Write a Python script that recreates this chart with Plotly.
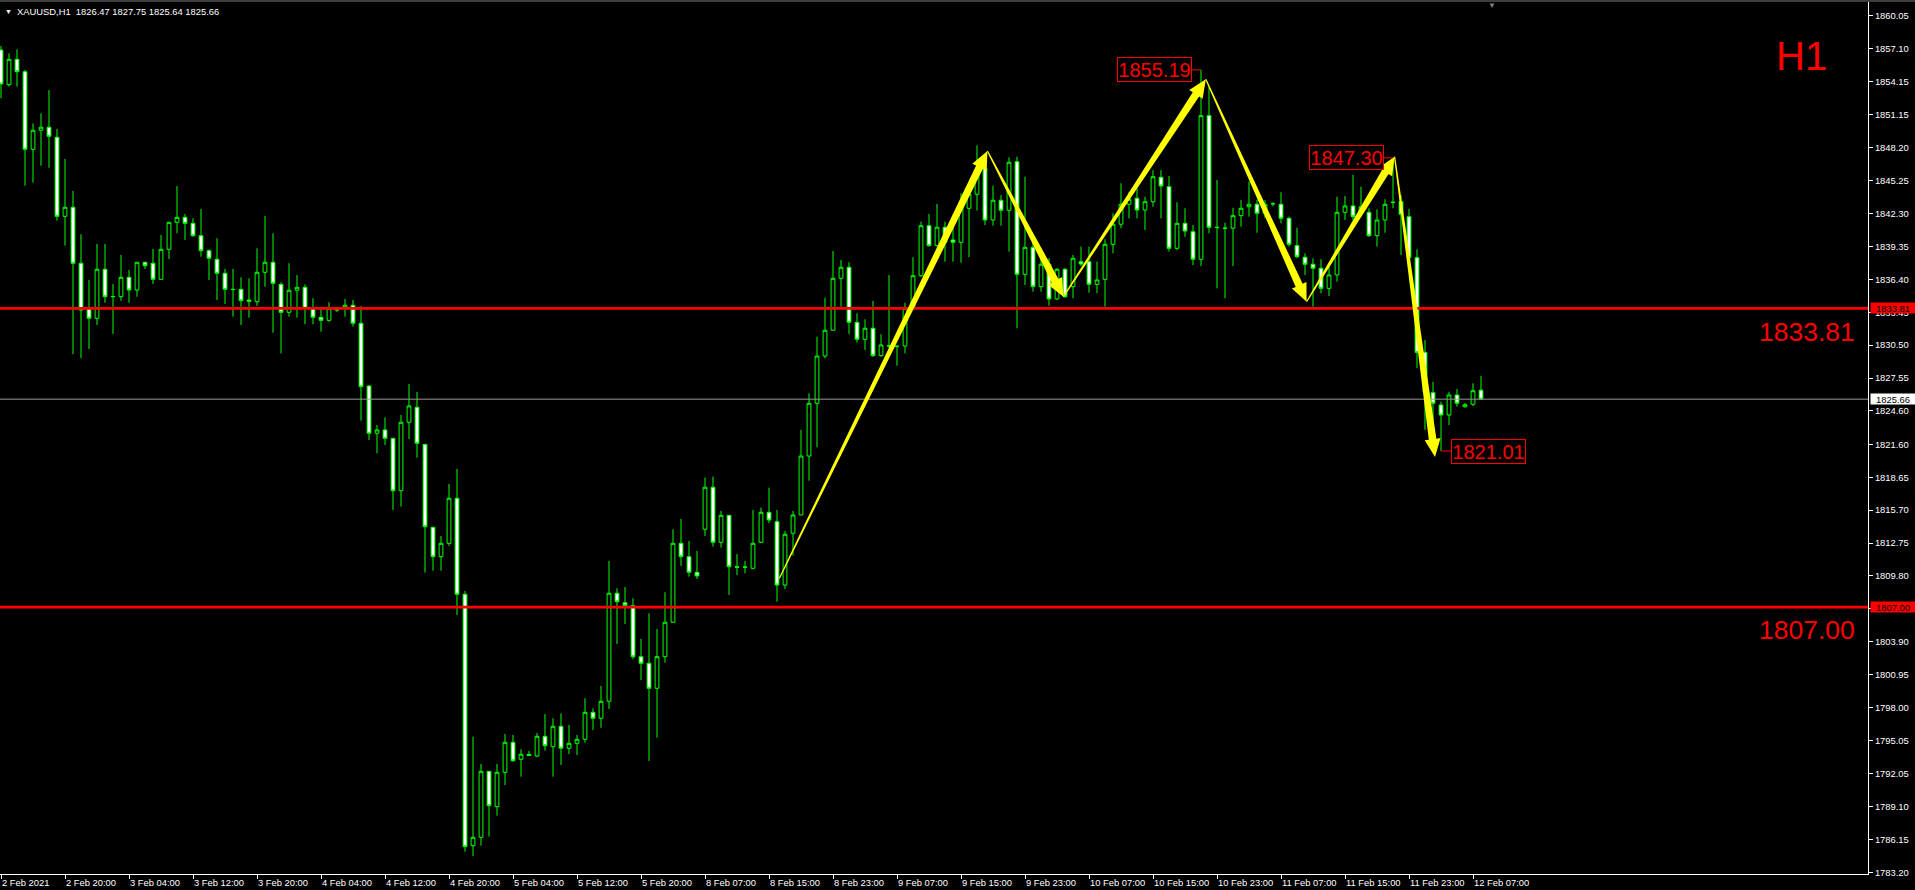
import math
import plotly.graph_objects as go

# ---------------- data ----------------
time_labels = ["2 Feb 2021", "2 Feb 20:00", "3 Feb 04:00", "3 Feb 12:00", "3 Feb 20:00",
               "4 Feb 04:00", "4 Feb 12:00", "4 Feb 20:00", "5 Feb 04:00", "5 Feb 12:00",
               "5 Feb 20:00", "8 Feb 07:00", "8 Feb 15:00", "8 Feb 23:00", "9 Feb 07:00",
               "9 Feb 15:00", "9 Feb 23:00", "10 Feb 07:00", "10 Feb 15:00", "10 Feb 23:00",
               "11 Feb 07:00", "11 Feb 15:00", "11 Feb 23:00", "12 Feb 07:00"]
label_every = 8

open_prices = [
    1856.98, 1853.87, 1856.14, 1855.03, 1848.07, 1849.78, 1850.05, 1849.15, 1842.06, 1842.87,
    1837.85, 1833.81, 1832.91, 1837.31, 1834.85, 1834.85, 1836.59, 1835.45, 1837.94, 1837.85,
    1836.41, 1839.10, 1841.52, 1841.97, 1841.43, 1840.32, 1838.98, 1838.21, 1836.95, 1835.51,
    1835.51, 1834.55, 1834.40, 1837.04, 1837.94, 1835.96, 1833.45, 1835.43, 1835.69, 1833.81,
    1833.00, 1832.73, 1833.70, 1833.81, 1834.08, 1832.47, 1826.84, 1822.60, 1822.90, 1822.15,
    1817.45, 1823.59, 1824.93, 1821.61, 1814.17, 1811.53, 1812.73, 1816.77, 1808.16, 1785.61,
    1786.36, 1792.28, 1789.11, 1792.19, 1794.88, 1793.36, 1793.80, 1793.65, 1795.42, 1794.49,
    1796.32, 1794.35, 1794.79, 1795.15, 1797.57, 1797.04, 1798.56, 1808.25, 1807.40, 1807.14,
    1802.56, 1801.97, 1799.73, 1802.56, 1805.65, 1812.73, 1811.53, 1810.13, 1813.99, 1817.76,
    1812.82, 1815.24, 1810.63, 1810.58, 1810.49, 1812.82, 1815.51, 1814.67, 1808.99, 1813.63,
    1815.27, 1820.56, 1825.29, 1829.53, 1831.84, 1836.50, 1837.49, 1832.55, 1831.03, 1832.02,
    1829.56, 1830.45, 1830.37, 1830.43, 1833.81, 1836.73, 1841.22, 1839.43, 1841.08, 1839.94,
    1839.73, 1842.78, 1844.04, 1846.37, 1841.73, 1843.50, 1842.60, 1846.96, 1836.86, 1839.28,
    1835.75, 1837.76, 1834.65, 1837.31, 1835.75, 1837.99, 1837.99, 1835.96, 1836.41, 1839.55,
    1841.35, 1843.14, 1843.68, 1842.63, 1843.37, 1845.56, 1844.72, 1839.19, 1841.43, 1840.68,
    1838.21, 1851.09, 1841.08, 1841.00, 1840.99, 1842.12, 1842.92, 1843.14, 1842.33, 1843.17,
    1843.14, 1841.88, 1839.43, 1838.39, 1837.76, 1837.40, 1835.60, 1836.80, 1842.42, 1842.99,
    1842.39, 1842.42, 1840.32, 1841.73, 1843.30, 1843.37, 1842.03, 1838.35, 1829.86, 1826.24,
    1825.14, 1824.24, 1826.03, 1824.98, 1825.20, 1826.47]
high_prices = [
    1857.34, 1856.68, 1857.04, 1855.18, 1850.40, 1851.30, 1853.39, 1849.89, 1847.20, 1844.33,
    1840.45, 1836.35, 1839.58, 1839.58, 1835.99, 1838.59, 1837.25, 1837.94, 1837.94, 1839.13,
    1840.39, 1841.52, 1844.78, 1842.27, 1841.88, 1842.72, 1839.10, 1840.09, 1837.34, 1837.34,
    1836.59, 1836.50, 1839.19, 1842.09, 1840.54, 1836.14, 1837.85, 1836.80, 1835.96, 1834.71,
    1833.95, 1834.35, 1833.85, 1834.65, 1834.56, 1834.02, 1826.93, 1823.34, 1824.03, 1822.15,
    1824.24, 1827.02, 1826.30, 1821.61, 1814.17, 1813.39, 1818.05, 1819.40, 1808.45, 1795.39,
    1792.94, 1792.28, 1792.94, 1795.63, 1795.54, 1794.26, 1794.10, 1795.72, 1797.42, 1797.04,
    1797.48, 1796.44, 1795.54, 1798.83, 1797.93, 1799.93, 1811.15, 1808.70, 1808.81, 1807.80,
    1804.15, 1806.45, 1805.05, 1808.34, 1813.99, 1814.91, 1812.94, 1812.04, 1818.62, 1818.71,
    1815.63, 1815.24, 1811.77, 1811.15, 1815.72, 1815.93, 1817.72, 1815.72, 1813.84, 1815.63,
    1822.90, 1826.19, 1831.26, 1834.76, 1838.95, 1838.14, 1837.94, 1833.36, 1832.82, 1834.47,
    1831.48, 1836.80, 1830.52, 1834.31, 1838.39, 1841.58, 1842.27, 1843.17, 1841.58, 1841.67,
    1844.13, 1844.81, 1848.43, 1846.66, 1844.81, 1843.97, 1847.35, 1847.41, 1845.61, 1839.90,
    1838.50, 1838.30, 1837.42, 1837.42, 1838.59, 1839.34, 1839.34, 1837.99, 1840.00, 1842.33,
    1845.02, 1844.27, 1844.57, 1843.82, 1846.22, 1846.22, 1845.68, 1843.32, 1842.78, 1841.28,
    1855.19, 1853.69, 1845.32, 1841.49, 1842.83, 1843.52, 1845.17, 1843.52, 1843.52, 1843.32,
    1844.22, 1842.03, 1841.04, 1838.74, 1838.30, 1838.21, 1837.54, 1843.82, 1843.88, 1845.77,
    1844.72, 1842.78, 1842.69, 1843.59, 1847.30, 1843.97, 1842.72, 1839.10, 1830.97, 1827.22,
    1825.43, 1826.33, 1826.57, 1825.32, 1827.08, 1827.75]
low_prices = [
    1852.65, 1853.69, 1853.69, 1844.81, 1845.08, 1846.60, 1846.42, 1841.67, 1839.43, 1829.69,
    1829.33, 1830.16, 1832.31, 1834.31, 1831.51, 1834.47, 1834.31, 1834.85, 1837.34, 1835.99,
    1836.41, 1838.23, 1840.54, 1839.94, 1840.23, 1838.44, 1836.35, 1834.56, 1834.20, 1833.06,
    1832.31, 1832.97, 1834.02, 1835.75, 1831.62, 1829.77, 1833.06, 1832.97, 1832.38, 1832.38,
    1831.71, 1832.61, 1833.48, 1833.06, 1832.16, 1823.73, 1822.00, 1820.80, 1821.55, 1815.72,
    1816.02, 1822.09, 1820.41, 1810.10, 1810.27, 1810.27, 1812.49, 1806.30, 1785.07, 1784.69,
    1785.61, 1786.42, 1788.30, 1791.05, 1793.14, 1791.80, 1793.65, 1793.54, 1794.13, 1791.80,
    1792.85, 1793.83, 1793.74, 1794.85, 1795.99, 1796.19, 1797.87, 1803.70, 1805.49, 1802.33,
    1800.47, 1793.21, 1795.30, 1802.02, 1805.65, 1810.70, 1809.74, 1809.53, 1813.39, 1812.43,
    1812.34, 1808.10, 1809.89, 1810.04, 1810.40, 1812.73, 1814.53, 1807.49, 1808.63, 1811.62,
    1815.27, 1818.35, 1821.34, 1829.33, 1831.84, 1833.95, 1831.48, 1830.73, 1830.07, 1829.47,
    1829.47, 1830.25, 1828.66, 1829.77, 1833.81, 1836.65, 1839.34, 1839.34, 1837.99, 1837.99,
    1837.90, 1838.39, 1842.57, 1841.28, 1841.22, 1841.22, 1838.89, 1832.02, 1835.90, 1835.30,
    1835.30, 1834.04, 1834.56, 1834.76, 1834.71, 1837.60, 1835.21, 1835.16, 1833.95, 1838.74,
    1840.99, 1841.88, 1841.88, 1840.83, 1842.92, 1841.88, 1838.89, 1839.04, 1840.23, 1837.69,
    1837.60, 1840.54, 1835.60, 1834.71, 1837.60, 1841.13, 1842.03, 1840.59, 1841.90, 1842.95,
    1841.43, 1839.34, 1838.30, 1836.80, 1833.95, 1835.16, 1834.91, 1836.20, 1841.73, 1841.73,
    1842.03, 1840.23, 1839.34, 1840.59, 1842.78, 1838.59, 1838.10, 1828.43, 1822.90, 1822.72,
    1821.01, 1823.34, 1824.98, 1824.90, 1825.05, 1825.64]
close_prices = [
    1853.93, 1856.14, 1855.03, 1848.07, 1849.78, 1850.05, 1849.24, 1842.06, 1842.87, 1837.85,
    1833.66, 1832.91, 1837.31, 1834.85, 1834.87, 1836.59, 1835.45, 1837.94, 1837.63, 1836.41,
    1839.10, 1841.52, 1841.97, 1841.43, 1840.32, 1838.98, 1838.30, 1836.95, 1835.51, 1835.49,
    1834.49, 1834.45, 1837.04, 1837.94, 1836.05, 1833.45, 1835.43, 1835.69, 1833.81, 1833.00,
    1832.73, 1833.81, 1833.66, 1834.08, 1832.47, 1826.78, 1822.60, 1822.90, 1822.15, 1817.45,
    1823.59, 1825.05, 1821.70, 1814.22, 1811.53, 1812.73, 1816.77, 1808.16, 1785.52, 1786.36,
    1792.28, 1789.20, 1792.19, 1794.88, 1793.23, 1793.81, 1793.70, 1795.42, 1794.58, 1796.32,
    1794.35, 1794.79, 1795.15, 1797.57, 1797.04, 1798.56, 1808.25, 1807.49, 1807.14, 1802.56,
    1801.97, 1799.73, 1802.56, 1805.65, 1812.73, 1811.53, 1810.13, 1809.80, 1817.76, 1812.82,
    1815.24, 1810.63, 1810.58, 1810.60, 1812.73, 1815.51, 1814.82, 1808.99, 1813.54, 1815.27,
    1820.56, 1825.29, 1829.53, 1831.84, 1836.50, 1837.49, 1832.55, 1831.03, 1832.02, 1829.56,
    1830.52, 1830.43, 1830.40, 1833.81, 1836.73, 1841.22, 1839.43, 1841.08, 1839.73, 1839.73,
    1842.78, 1844.04, 1846.22, 1841.73, 1843.50, 1842.60, 1846.91, 1836.86, 1839.28, 1835.75,
    1837.76, 1834.65, 1837.31, 1834.85, 1838.30, 1837.78, 1835.96, 1836.35, 1839.55, 1841.35,
    1843.14, 1843.59, 1842.63, 1843.37, 1845.61, 1844.78, 1839.19, 1841.43, 1840.74, 1838.21,
    1851.09, 1841.08, 1841.05, 1840.99, 1842.12, 1842.78, 1843.14, 1842.33, 1843.14, 1843.20,
    1841.88, 1839.55, 1838.44, 1837.76, 1837.40, 1835.60, 1836.80, 1842.42, 1842.99, 1842.03,
    1842.92, 1840.32, 1841.73, 1843.14, 1843.32, 1842.24, 1838.35, 1829.86, 1826.33, 1825.29,
    1824.24, 1826.03, 1825.29, 1825.16, 1826.42, 1825.66]

price_ticks = [1860.05, 1857.10, 1854.15, 1851.15, 1848.20, 1845.25, 1842.30, 1839.35, 1836.40,
               1833.45, 1830.50, 1827.55, 1824.60, 1821.60, 1818.65, 1815.70, 1812.75, 1809.80,
               1806.85, 1803.90, 1800.95, 1798.00, 1795.05, 1792.05, 1789.10, 1786.15, 1783.20]

symbol_text = "XAUUSD,H1"
header_ohlc = [1826.47, 1827.75, 1825.64, 1825.66]
timeframe_text = "H1"
level_prices = [1833.81, 1807.00]
bid_price = 1825.66

swing_bars = [150, 174, 180]
swing_prices = [1855.19, 1847.30, 1821.01]
swing_label_side = [-1, -1, 1]

zigzag_bars = [97.3, 123.3, 132.8, 150.6, 163.2, 174.2, 179.25]
zigzag_prices = [1809.59, 1847.92, 1834.85, 1854.35, 1834.40, 1847.41, 1820.47]

# ---------------- layout constants ----------------
W, H = 1915, 890
ML, MR, MT, MB = 0, 47, 2, 16
PW, PH = W - ML - MR, H - MT - MB
BAR_PX = 8.0
X_RANGE = [-0.125, -0.125 + PW / BAR_PX]
Y_RANGE = [1783.069, 1861.283]
SX = PW / (X_RANGE[1] - X_RANGE[0])
SY = PH / (Y_RANGE[1] - Y_RANGE[0])

GREEN = "#00ff00"
RED = "#ff0000"
YELLOW = "#ffff00"
BIG = "Liberation Sans, Arial, sans-serif"
UI = "Liberation Sans, Arial, sans-serif"

n = len(open_prices)
bars = list(range(n))

fig = go.Figure()
fig.add_trace(go.Candlestick(
    x=bars, open=open_prices, high=high_prices, low=low_prices, close=close_prices,
    increasing=dict(line=dict(color=GREEN, width=1), fillcolor="#000000"),
    decreasing=dict(line=dict(color=GREEN, width=1), fillcolor="#ffffff"),
    whiskerwidth=0, showlegend=False, hoverinfo="skip",
))

shapes = []
# bid line
shapes.append(dict(type="line", xref="paper", yref="y", x0=0, x1=1, y0=bid_price, y1=bid_price,
                   line=dict(color="#9a9a9a", width=1), layer="above"))
# support / resistance lines
for lv in level_prices:
    shapes.append(dict(type="line", xref="paper", yref="y", x0=0, x1=1, y0=lv, y1=lv,
                       line=dict(color=RED, width=2.8), layer="above"))


def arrow_path(p_bar, p_price, q_bar, q_price, w0=0.6, ws=3.8, wh=8.0, hl=18.0):
    dx = (q_bar - p_bar) * SX
    dy = (q_price - p_price) * SY
    L = math.hypot(dx, dy)
    ux, uy = dx / L, dy / L
    nx, ny = -uy, ux
    bx, by = ux * (L - hl), uy * (L - hl)
    pts = [
        (nx * w0, ny * w0),
        (bx + nx * ws, by + ny * ws),
        (bx + nx * wh, by + ny * wh),
        (ux * L, uy * L),
        (bx - nx * wh, by - ny * wh),
        (bx - nx * ws, by - ny * ws),
        (-nx * w0, -ny * w0),
    ]
    coords = [(p_bar + px / SX, p_price + py / SY) for px, py in pts]
    return "M " + " L ".join(f"{x:.4f},{y:.4f}" for x, y in coords) + " Z"


for k in range(len(zigzag_bars) - 1):
    shapes.append(dict(type="path", xref="x", yref="y",
                       path=arrow_path(zigzag_bars[k], zigzag_prices[k],
                                       zigzag_bars[k + 1], zigzag_prices[k + 1]),
                       fillcolor=YELLOW, line=dict(width=0), layer="above"))

# window top border
shapes.append(dict(type="line", xref="paper", yref="paper", x0=0, x1=W / PW,
                   y0=1 + 1.0 / PH, y1=1 + 1.0 / PH, line=dict(color="#7a7a7a", width=1)))

annotations = []


def px_x(p):
    return (p - ML) / PW


def px_y(p):
    return 1 - (p - MT) / PH


# header
annotations.append(dict(xref="paper", yref="paper", x=px_x(8), y=px_y(12), text="▼",
                        showarrow=False, xanchor="center", yanchor="middle",
                        font=dict(color="#ffffff", size=7, family=UI)))
annotations.append(dict(xref="paper", yref="paper", x=px_x(15), y=px_y(12),
                        text=symbol_text + "\u00a0\u00a0" + " ".join(f"{v:.2f}" for v in header_ohlc),
                        showarrow=False, xanchor="left", yanchor="middle",
                        font=dict(color="#ffffff", size=9.4, family=UI)))
# chart shift marker
annotations.append(dict(xref="paper", yref="paper", x=px_x(1492), y=px_y(5), text="▼",
                        showarrow=False, xanchor="center", yanchor="middle",
                        font=dict(color="#7f7f7f", size=8, family=UI)))
# timeframe
annotations.append(dict(xref="paper", yref="paper", x=px_x(1801), y=px_y(56), text=timeframe_text,
                        showarrow=False, xanchor="center", yanchor="middle",
                        font=dict(color=RED, size=40, family=BIG)))
# big level texts
for lv, shift in zip(level_prices, [-24, -23]):
    annotations.append(dict(xref="paper", yref="y", x=px_x(1857), y=lv, yshift=shift,
                            text=f"{lv:.2f}", showarrow=False, xanchor="right", yanchor="middle",
                            font=dict(color=RED, size=26.5, family=BIG)))
# axis price boxes
for lv in level_prices:
    annotations.append(dict(xref="paper", yref="y", x=px_x(1870), y=lv, text=f"{lv:.2f}",
                            showarrow=False, xanchor="left", yanchor="middle",
                            bgcolor=RED, width=44, height=10, borderpad=0,
                            font=dict(color="#000000", size=9.4, family=UI)))
annotations.append(dict(xref="paper", yref="y", x=px_x(1870), y=bid_price, text=f"{bid_price:.2f}",
                        showarrow=False, xanchor="left", yanchor="middle",
                        bgcolor="#ffffff", width=44, height=10, borderpad=0,
                        font=dict(color="#000000", size=9.4, family=UI)))
# swing price labels
for b, p, s in zip(swing_bars, swing_prices, swing_label_side):
    annotations.append(dict(xref="x", yref="y", x=b, y=p, text=f"{p:.2f}",
                            showarrow=True, arrowhead=0, arrowwidth=1, arrowcolor=RED,
                            ax=47 * s, ay=0, standoff=0,
                            bgcolor="#000000", bordercolor=RED, borderwidth=1, borderpad=0,
                            width=73, height=23,
                            font=dict(color=RED, size=20, family=BIG)))

fig.update_layout(
    width=W, height=H, autosize=False,
    margin=dict(l=ML, r=MR, t=MT, b=MB, pad=0, autoexpand=False),
    paper_bgcolor="#000000", plot_bgcolor="#000000",
    boxgap=0.32,
    showlegend=False,
    shapes=shapes, annotations=annotations,
    xaxis=dict(
        range=X_RANGE, rangeslider=dict(visible=False), automargin=False,
        tickmode="array", tickvals=bars[::label_every], ticktext=time_labels,
        tickangle=0,
        ticks="outside", ticklen=4, tickcolor="#ffffff", tickwidth=1,
        ticklabelposition="outside right",
        tickfont=dict(color="#ffffff", size=9.4, family=UI),
        showgrid=False, zeroline=False, showline=True, linecolor="#ffffff", linewidth=1,
        fixedrange=True,
    ),
    yaxis=dict(
        side="right", range=Y_RANGE, automargin=False,
        tickmode="array", tickvals=price_ticks, ticktext=[f"{v:.2f}" for v in price_ticks],
        ticks="outside", ticklen=4, tickcolor="#ffffff", tickwidth=1,
        tickfont=dict(color="#ffffff", size=9.4, family=UI),
        showgrid=False, zeroline=False, showline=True, linecolor="#ffffff", linewidth=1,
        fixedrange=True,
    ),
)

fig.write_html("out.html", config={"displayModeBar": False},
               post_script="document.body.style.margin='0px';")
